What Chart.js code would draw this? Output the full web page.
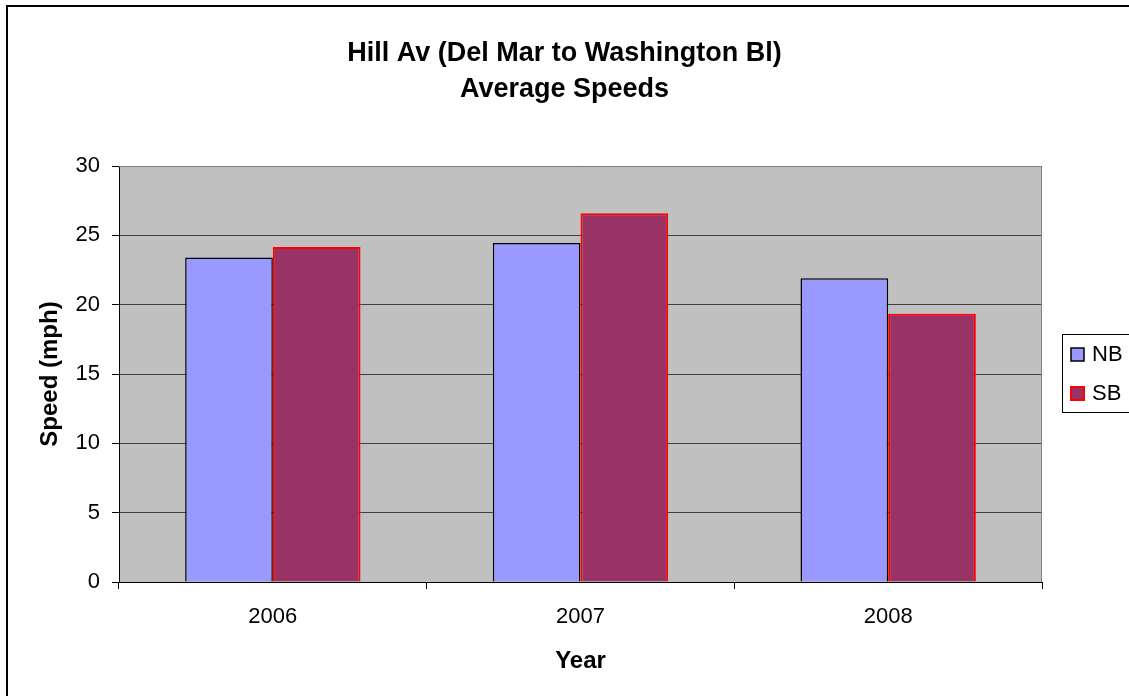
<!DOCTYPE html>
<html><head><meta charset="utf-8">
<script src="https://cdn.jsdelivr.net/npm/chart.js@4/dist/chart.umd.min.js"></script>
<style>html,body{margin:0;padding:0;background:#fff;overflow:hidden}
canvas{display:block}</style></head><body>
<canvas id="c" width="1129" height="696"></canvas>
<script>
const categories = ['2006', '2007', '2008'];
const seriesLabels = ['NB', 'SB'];
const nbValues = [23.4, 24.45, 21.9];
const sbValues = [24.15, 26.6, 19.35];
const yTickValues = [0, 5, 10, 15, 20, 25, 30];
const titleLines = ['Hill Av (Del Mar to Washington Bl)', 'Average Speeds'];
const yTitle = 'Speed (mph)';
const xTitle = 'Year';

const FONT = "'Liberation Sans', Arial, sans-serif";
Chart.defaults.font.family = FONT;
Chart.defaults.color = '#000';

const decor = {
  id: 'decor',
  beforeDraw(chart) {
    const {ctx, chartArea: a} = chart;
    ctx.save();
    ctx.fillStyle = '#fff';
    ctx.fillRect(0, 0, chart.width, chart.height);
    ctx.fillStyle = '#c0c0c0';
    ctx.fillRect(a.left, a.top, a.right - a.left, a.bottom - a.top);
    ctx.strokeStyle = '#000';
    ctx.lineWidth = 2;
    ctx.beginPath();
    ctx.moveTo(7, chart.height); ctx.lineTo(7, 6); ctx.lineTo(chart.width, 6);
    ctx.stroke();
    ctx.restore();
  },
  afterDraw(chart) {
    const {ctx, chartArea: a} = chart;
    ctx.save();
    ctx.strokeStyle = '#808080';
    ctx.lineWidth = 1;
    ctx.beginPath();
    ctx.moveTo(a.left, a.top + 0.5); ctx.lineTo(a.right - 0.5, a.top + 0.5); ctx.lineTo(a.right - 0.5, a.bottom);
    ctx.stroke();
    // legend
    ctx.strokeStyle = '#000';
    ctx.lineWidth = 1;
    ctx.strokeRect(1062.5, 334.5, 90, 78);
    const ds = chart.data.datasets;
    const ys = [355, 394];
    ds.forEach((d, i) => {
      ctx.fillStyle = d.backgroundColor;
      ctx.fillRect(1071, ys[i] - 7, 13, 13);
      ctx.strokeStyle = d.borderColor;
      ctx.lineWidth = i === 0 ? 1.5 : 2;
      ctx.strokeRect(1071, ys[i] - 7, 13, 13);
      ctx.fillStyle = '#000';
      ctx.font = '22px ' + FONT;
      ctx.textBaseline = 'middle';
      ctx.textAlign = 'left';
      ctx.fillText(d.label, 1092, ys[i]);
    });
    ctx.restore();
  }
};

new Chart(document.getElementById('c'), {
  type: 'bar',
  data: {
    labels: categories,
    datasets: [
      {label: seriesLabels[0], data: nbValues, backgroundColor: '#9999ff', borderColor: '#000', borderWidth: 1.5,
       categoryPercentage: 0.57, barPercentage: 1},
      {label: seriesLabels[1], data: sbValues, backgroundColor: '#993366', borderColor: '#ff0000', borderWidth: 2,
       categoryPercentage: 0.57, barPercentage: 1}
    ]
  },
  options: {
    responsive: false,
    animation: false,
    layout: {padding: {left: 0, right: 0, top: 0, bottom: 0}},
    plugins: {
      legend: {display: false},
      tooltip: {enabled: false},
      title: {display: true, text: titleLines, color: '#000',
        font: {size: 27, weight: 'bold', lineHeight: '36px'},
        padding: {top: 36, bottom: 58}}
    },
    scales: {
      x: {
        grid: {offset: true, drawOnChartArea: false, tickLength: 7, color: '#000'},
        border: {display: true, color: '#000', width: 1},
        ticks: {font: {size: 22}, padding: 15, color: '#000'},
        title: {display: true, text: xTitle, font: {size: 24, weight: 'bold'}, padding: {top: 0, bottom: 20}, color: '#000'},
        afterFit(s) { s.height = 114; }
      },
      y: {
        min: 0, max: 30,
        afterBuildTicks(s) { s.ticks = yTickValues.map(v => ({value: v})); },
        grid: {color: '#404040', tickLength: 7, tickColor: '#000'},
        border: {display: true, color: '#000', width: 1},
        ticks: {font: {size: 22}, padding: 12, color: '#000'},
        title: {display: true, text: yTitle, font: {size: 24, weight: 'bold'}, padding: {top: 36, bottom: 0}, color: '#000'},
        afterFit(s) { s.width = 119; }
      },
      legendSpace: {
        position: 'right', display: true,
        grid: {display: false}, border: {display: false},
        ticks: {display: false},
        afterFit(s) { s.width = 87; }
      }
    }
  },
  plugins: [decor]
});
</script></body></html>
